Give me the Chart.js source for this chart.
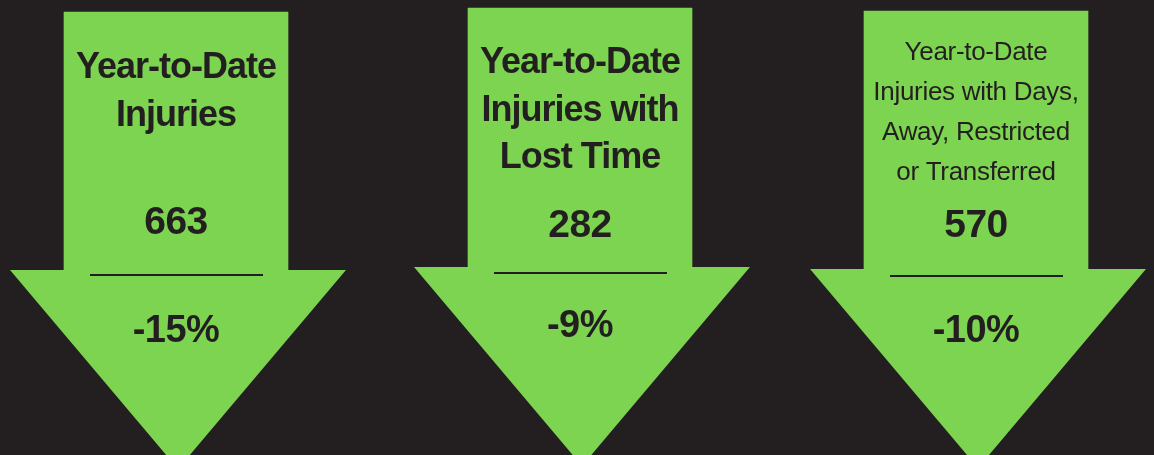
<!DOCTYPE html>
<html>
<head>
<meta charset="utf-8">
<script src="https://cdn.jsdelivr.net/npm/chart.js@4.4.1/dist/chart.umd.min.js"></script>
<style>
    html, body { margin: 0; padding: 0; background: #231f20; }
    #graficoSetas { display: block; }
</style>
</head>
<body>
<canvas id="graficoSetas" width="1154" height="455"></canvas>
<script>
// dados
const titulos = [
    ['Year-to-Date', 'Injuries'],
    ['Year-to-Date', 'Injuries with', 'Lost Time'],
    ['Year-to-Date', 'Injuries with Days,', 'Away, Restricted', 'or Transferred']
];
const totais = [663, 282, 570];
const variacoes = [-15, -9, -10];

const verde = '#7dd450';
const escuro = '#231f20';

// posicoes de cada seta (px)
const layout = [
    { dx: 0, topo: 12, ombro: 270, ponta: 469, tituloY: 78, linhaH: 48, fonte: 'bold 36px "Liberation Sans"', espaco: '-1px', numeroY: 234, divisorY: 275, pctY: 342 },
    { dx: 4, topo: 8, ombro: 267, ponta: 466, tituloY: 73, linhaH: 47.5, fonte: 'bold 36px "Liberation Sans"', espaco: '-1px', numeroY: 237, divisorY: 273, pctY: 337 },
    { dx: 0, topo: 11, ombro: 269, ponta: 468, tituloY: 60, linhaH: 40, fonte: '26px "Liberation Sans"', espaco: '-0.3px', numeroY: 237, divisorY: 276, pctY: 342 }
];

const pluginSetas = {
    id: 'setas',
    afterDatasetsDraw(chart) {
        const ctx = chart.ctx;
        const y = chart.scales.y;
        chart.getDatasetMeta(0).data.forEach((barra, i) => {
            const cx = barra.x + 2;
            const ombro = y.getPixelForValue(layout[i].ombro);
            const ponta = y.getPixelForValue(layout[i].ponta);
            ctx.save();
            ctx.fillStyle = verde;
            ctx.beginPath();
            ctx.moveTo(cx - 168, ombro);
            ctx.lineTo(cx + 168, ombro);
            ctx.lineTo(cx, ponta);
            ctx.closePath();
            ctx.fill();
            ctx.restore();
        });
    },
    afterDraw(chart) {
        const ctx = chart.ctx;
        const y = chart.scales.y;
        chart.getDatasetMeta(0).data.forEach((barra, i) => {
            const l = layout[i];
            const cx = barra.x;
            ctx.save();
            ctx.fillStyle = escuro;
            ctx.textAlign = 'center';
            ctx.textBaseline = 'alphabetic';

            ctx.font = l.fonte;
            ctx.letterSpacing = l.espaco;
            titulos[i].forEach((linha, j) => {
                ctx.fillText(linha, cx, y.getPixelForValue(l.tituloY + j * l.linhaH));
            });

            ctx.letterSpacing = '-0.5px';
            ctx.font = 'bold 39px "Liberation Sans"';
            ctx.fillText(String(totais[i]), cx, y.getPixelForValue(l.numeroY));

            ctx.strokeStyle = escuro;
            ctx.lineWidth = 2;
            ctx.beginPath();
            ctx.moveTo(cx - 86, y.getPixelForValue(l.divisorY));
            ctx.lineTo(cx + 87, y.getPixelForValue(l.divisorY));
            ctx.stroke();

            ctx.font = 'bold 38px "Liberation Sans"';
            ctx.fillText(variacoes[i] + '%', cx, y.getPixelForValue(l.pctY));
            ctx.restore();
        });
    }
};

const graficoSetas = new Chart(document.getElementById('graficoSetas'), {
    type: 'bar',
    data: {
        labels: titulos.map(t => t.join(' ')),
        datasets: [
            {
                label: 'Injuries',
                data: layout.map((l, i) => ({ x: i + l.dx / 400, y: [l.topo, l.ombro] })),
                backgroundColor: verde,
                borderWidth: 0,
                barThickness: 224
            }
        ]
    },
    options: {
        responsive: false,
        animation: false,
        layout: { padding: 0 },
        scales: {
            x: { type: 'linear', display: false, offset: false, min: -176 / 400, max: (1154 - 176) / 400 },
            y: { display: false, min: 0, max: 455, reverse: true }
        },
        plugins: {
            legend: { display: false },
            tooltip: { enabled: false }
        }
    },
    plugins: [pluginSetas]
});
</script>
</body>
</html>
